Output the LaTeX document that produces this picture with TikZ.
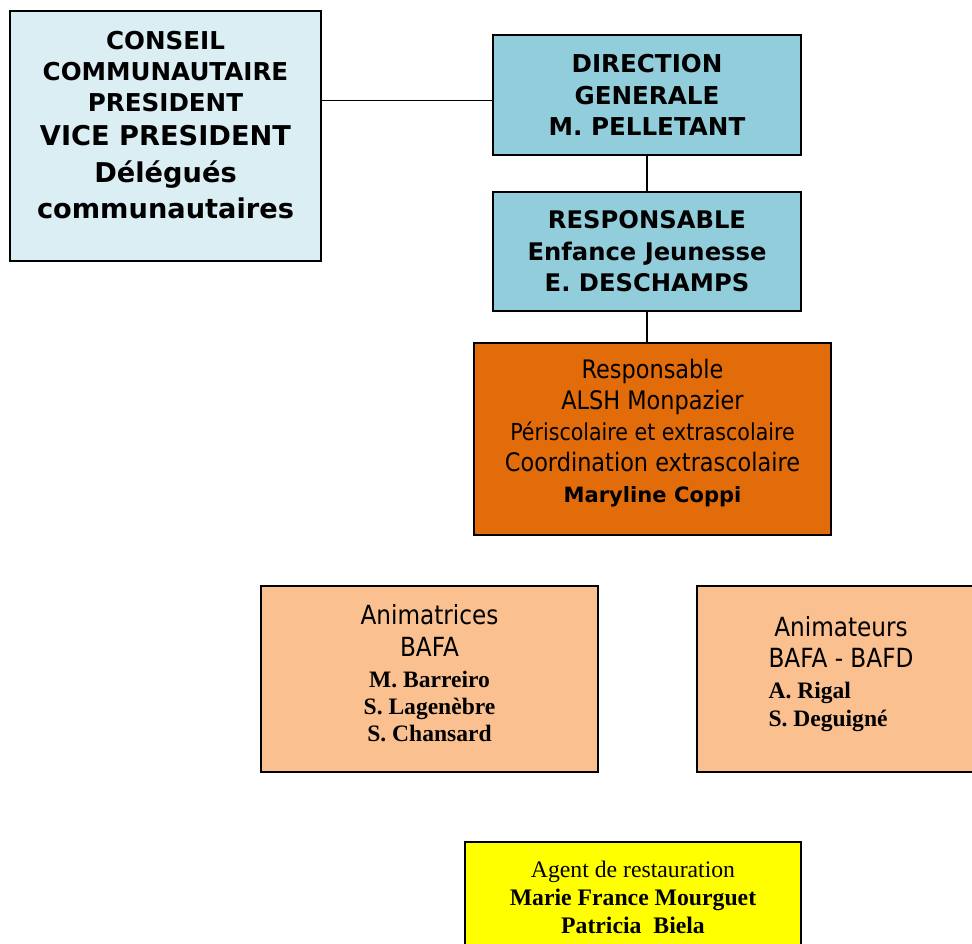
\documentclass[tikz,border=0pt]{standalone}
\usepackage{fontspec}
\setmainfont{DejaVu Sans}
\newfontfamily\condfont[FakeStretch=0.88]{DejaVu Sans}
\newfontfamily\timesfont{Liberation Serif}
\usetikzlibrary{positioning}

\definecolor{bleuclair}{HTML}{DBEEF4}
\definecolor{bleu}{HTML}{92CDDC}
\definecolor{orangefonce}{HTML}{E36C0A}
\definecolor{peche}{HTML}{FAC090}
\definecolor{jaune}{HTML}{FFFF00}

\tikzset{
	cadre/.style={draw=black, line width=0.9pt, inner sep=0pt},
	lien/.style={draw=black, line width=0.6pt},
}
\newcommand{\nomfont}{\timesfont\bfseries\fontsize{13.4}{15.5}\selectfont}

\begin{document}
\begin{tikzpicture}[x=0.02cm, y=-0.02cm]

		\useasboundingbox (0,0) rectangle (972,943);

		% conseil
		\node[cadre, fill=bleuclair, minimum width=6.22cm, minimum height=5cm] (conseil) at (165.5,136) {};
		\node[align=center, font=\bfseries\fontsize{14}{17.8}\selectfont] (conseiltxt) at (165.5,125)
			{CONSEIL\\COMMUNAUTAIRE\\PRESIDENT\\[1.5pt]{\fontsize{15.5}{19}\selectfont VICE PRESIDENT}\\[3pt]{\fontsize{15.5}{19}\selectfont Délégués}\\[3pt]{\fontsize{15.5}{19}\selectfont communautaires}};

		% direction
		\node[cadre, fill=bleu, minimum width=6.16cm, minimum height=2.4cm, align=center,
			font=\bfseries\fontsize{14}{18}\selectfont] (direction) at (647,95)
			{DIRECTION\\GENERALE\\M. PELLETANT};

		\node[cadre, fill=bleu, minimum width=6.16cm, minimum height=2.38cm, align=center,
			font=\bfseries\fontsize{13.8}{18}\selectfont] (resp) at (647,251.5)
			{RESPONSABLE\\Enfance Jeunesse\\E. DESCHAMPS};

		% alsh
		\node[cadre, fill=orangefonce, minimum width=7.14cm, minimum height=3.84cm] (alsh) at (652.5,439) {};
		\node[align=center, font=\condfont\fontsize{14.5}{17.7}\selectfont] (alshtxt) at (652.5,433)
			{Responsable\\ALSH Monpazier\\{\fontsize{13.3}{17}\selectfont Périscolaire et extrascolaire}\\Coordination extrascolaire\\{\rmfamily\bfseries\fontsize{12}{14}\selectfont Maryline Coppi}};

		% animation
		\node[cadre, fill=peche, minimum width=6.74cm, minimum height=3.72cm] (animatrices) at (429.5,679) {};
		\node[align=center, font=\condfont\fontsize{15}{18.5}\selectfont] (animatricestxt) at (429.5,673)
			{Animatrices\\BAFA\\[-1pt]{\nomfont M. Barreiro}\\[-3pt]{\nomfont S. Lagenèbre}\\[-3pt]{\nomfont S. Chansard}};

		\node[cadre, fill=peche, minimum width=5.76cm, minimum height=3.72cm] (animateurs) at (841,679) {};
		\node[align=center, font=\condfont\fontsize{15}{17.5}\selectfont] (animateurstxt) at (841,674)
			{Animateurs\\BAFA - BAFD\\{\nomfont\makebox[2.9cm][l]{A. Rigal}}\\[-1.6pt]{\nomfont\makebox[2.9cm][l]{S. Deguigné}}};

		% restauration
		\node[cadre, fill=jaune, minimum width=6.72cm, minimum height=2.2cm, align=center,
			font=\timesfont\fontsize{13.5}{15.9}\selectfont] (restauration) at (633,897)
			{Agent de restauration\\{\bfseries Marie France Mourguet}\\{\bfseries Patricia\ \ Biela}};

		% liens
		\draw[lien] ([yshift=-3pt]direction.west) -- ([yshift=-3pt]direction.west -| conseil.east);
		\draw[lien] (direction) -- (resp);
		\draw[lien] (resp.south) -- (resp.south |- alsh.north);

	\end{tikzpicture}
\end{document}
